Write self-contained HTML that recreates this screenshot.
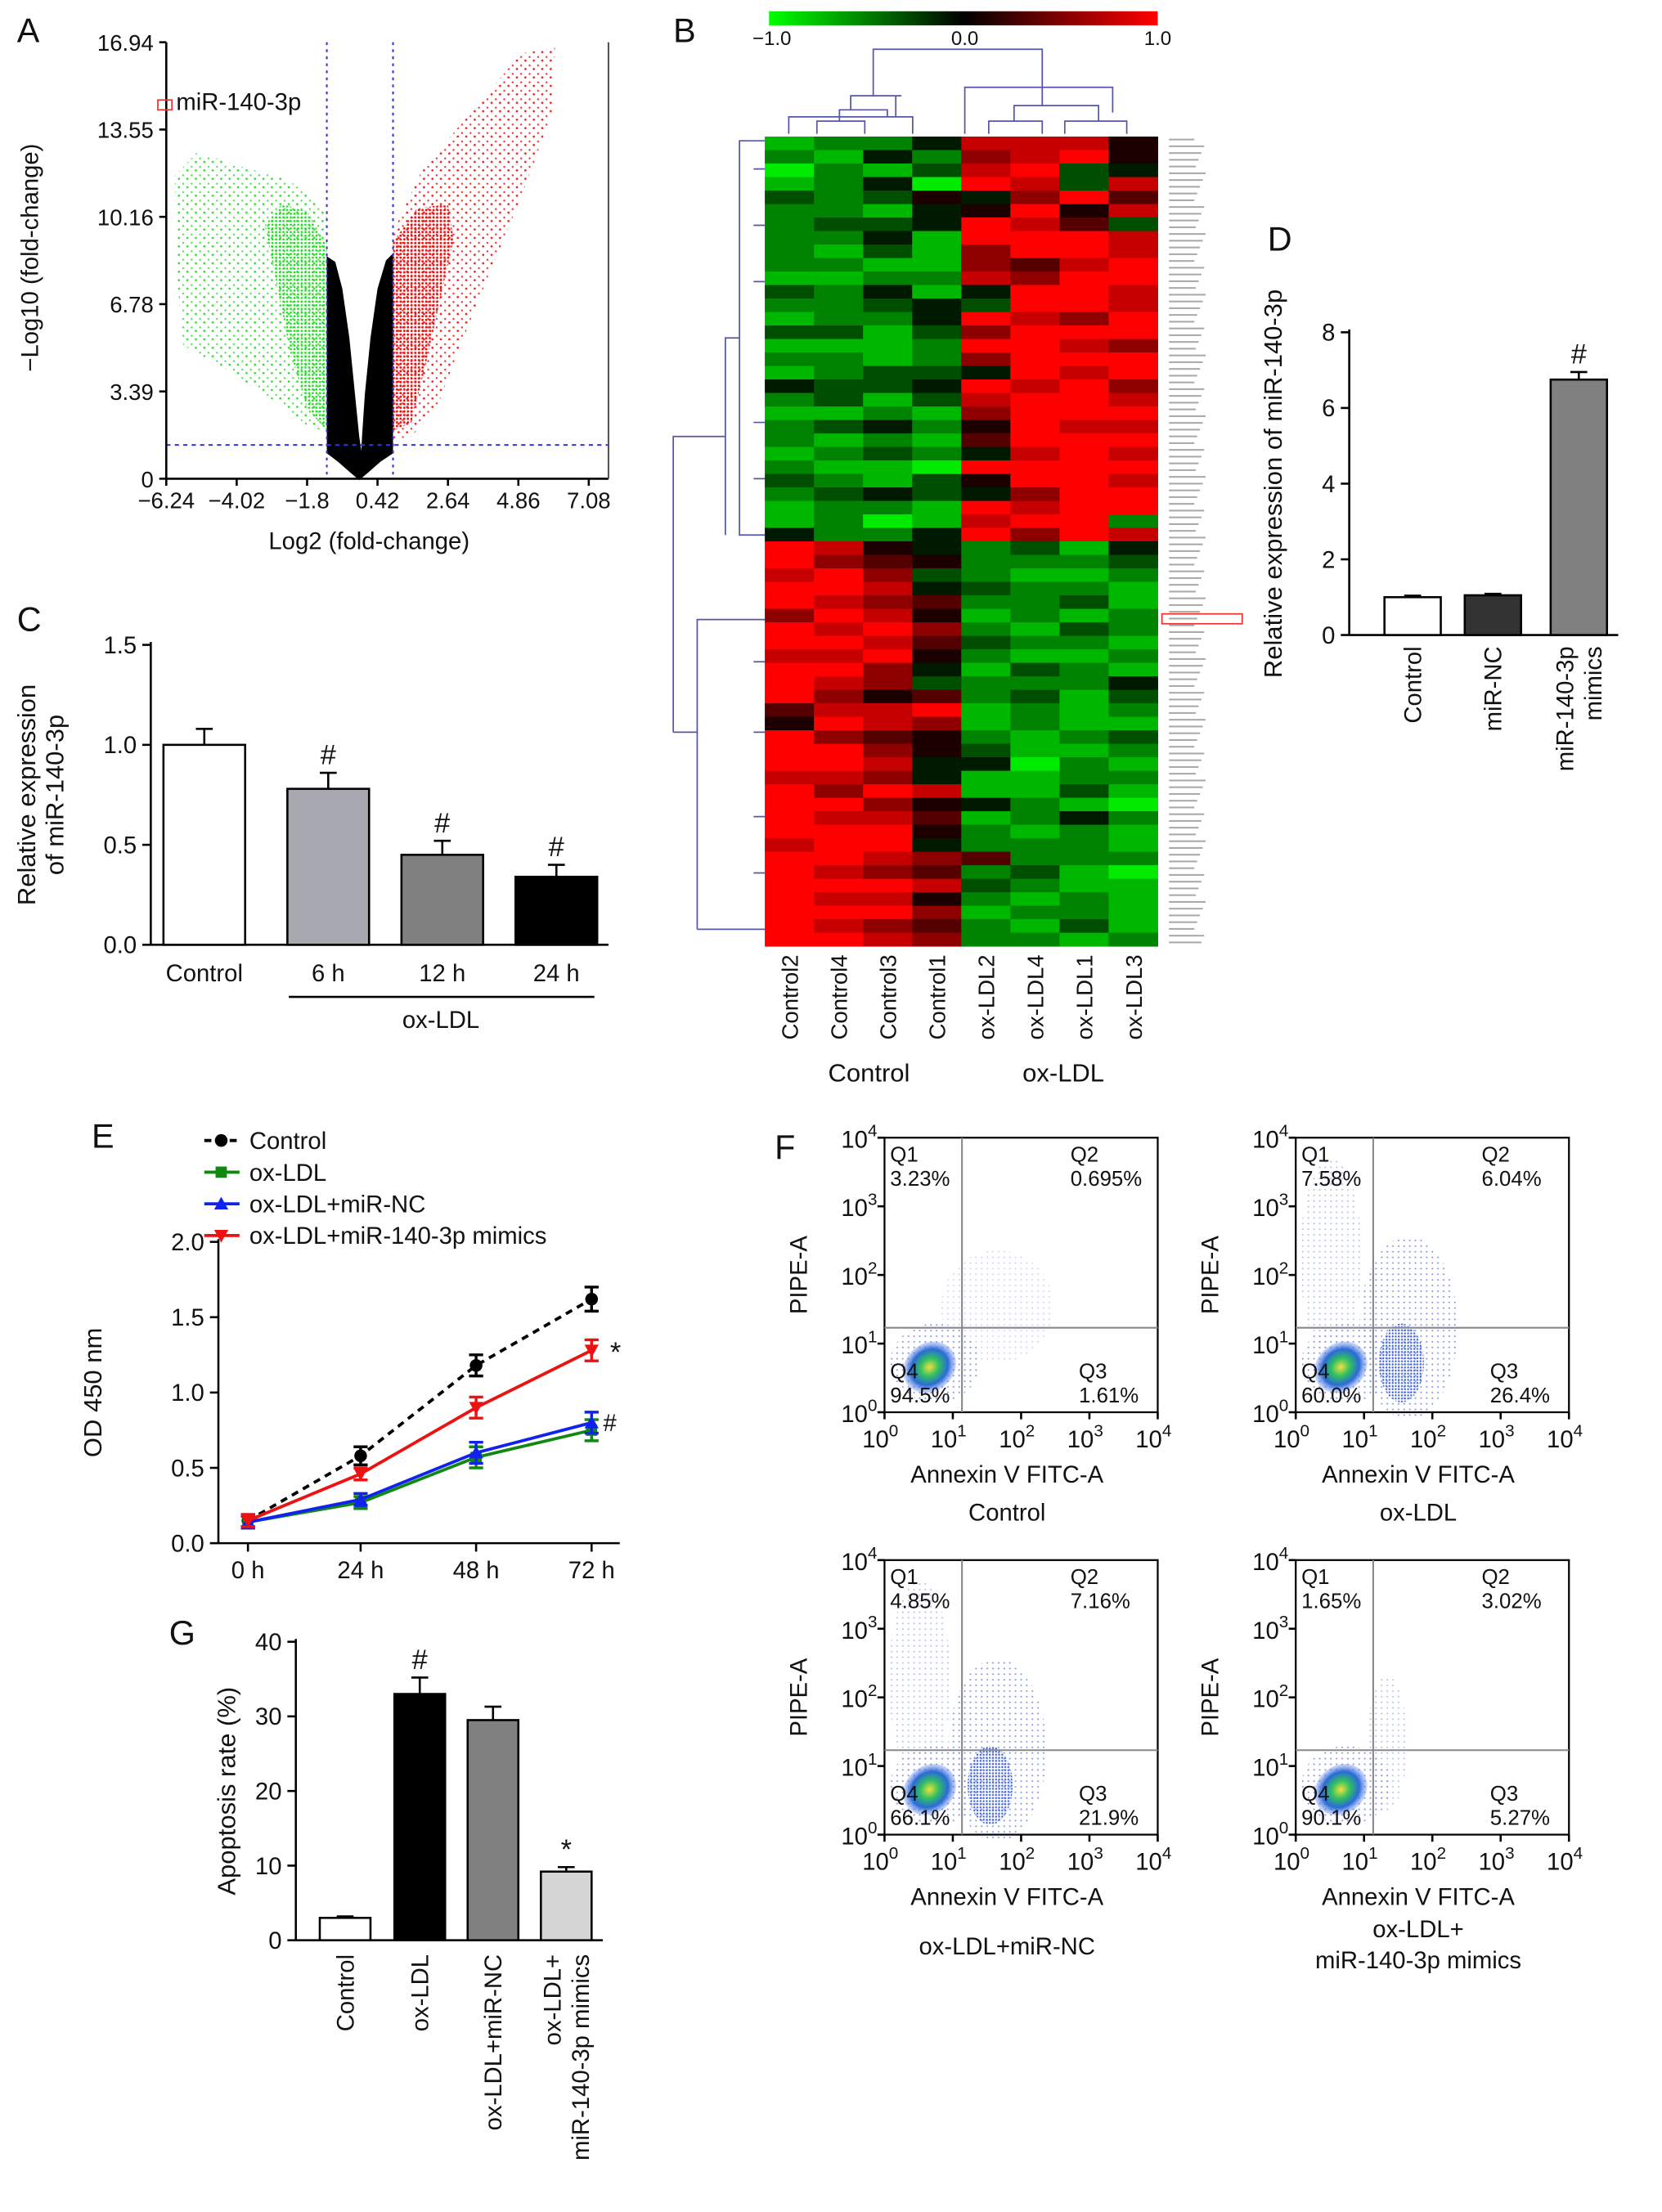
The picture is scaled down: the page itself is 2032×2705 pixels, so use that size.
<!DOCTYPE html>
<html><head><meta charset="utf-8"><style>
html,body{margin:0;padding:0;background:#fff}
svg{display:block;font-family:"Liberation Sans",Arial,sans-serif}
</style></head><body>
<svg id="fig" width="2032" height="2705" viewBox="0 0 1180 1571" xmlns="http://www.w3.org/2000/svg">
<defs>
<linearGradient id="cbar" x1="0" x2="1" y1="0" y2="0"><stop offset="0" stop-color="#00ff00"/><stop offset="0.5" stop-color="#000"/><stop offset="1" stop-color="#ff0000"/></linearGradient>
<radialGradient id="core"><stop offset="0" stop-color="#f0e040"/><stop offset="0.35" stop-color="#30c060"/><stop offset="0.7" stop-color="#2a6ad8"/><stop offset="1" stop-color="#6f8fe8" stop-opacity="0.3"/></radialGradient>
<pattern id="gs" width="6" height="6" patternUnits="userSpaceOnUse"><circle cx="1" cy="1" r="0.8" fill="#33dd33"/><circle cx="4" cy="4.5" r="0.7" fill="#55e055"/></pattern>
<pattern id="gd" width="2.6" height="2.6" patternUnits="userSpaceOnUse"><circle cx="1" cy="1" r="0.8" fill="#22dd22"/></pattern>
<pattern id="rs" width="6" height="6" patternUnits="userSpaceOnUse"><circle cx="1" cy="1" r="0.8" fill="#ee2222"/><circle cx="4" cy="4.5" r="0.7" fill="#f03333"/></pattern>
<pattern id="rd" width="2.6" height="2.6" patternUnits="userSpaceOnUse"><circle cx="1" cy="1" r="0.85" fill="#ee1111"/></pattern>
<pattern id="bs" width="4" height="4" patternUnits="userSpaceOnUse"><circle cx="1" cy="1" r="0.6" fill="#7a90e8"/></pattern>
<pattern id="bd" width="2.2" height="2.2" patternUnits="userSpaceOnUse"><circle cx="1" cy="1" r="0.7" fill="#4a6ad8"/></pattern>
</defs>
<g id="panels"></g>
</svg>
<script>
// ---------- data ----------
const cCats=["Control","6 h","12 h","24 h"];
const cVals=[1.0,0.78,0.45,0.34];
const cErr=[0.08,0.08,0.07,0.06];
const cTicks=[0,0.5,1.0,1.5];
const dCats=["Control","miR-NC","miR-140-3p mimics"];
const dVals=[1.0,1.05,6.75];
const dErr=[0.04,0.04,0.2];
const dTicks=[0,2,4,6,8];
const eTimes=["0 h","24 h","48 h","72 h"];
const eControl=[0.15,0.58,1.18,1.62];
const eOxLDL=[0.14,0.27,0.57,0.75];
const eMiRNC=[0.14,0.29,0.60,0.80];
const eMimics=[0.15,0.46,0.90,1.28];
const eErrCtl=[0.04,0.06,0.07,0.08];
const eErrOther=[0.04,0.04,0.07,0.07];
const eTicks=[0,0.5,1.0,1.5,2.0];
const gCats=["Control","ox-LDL","ox-LDL+miR-NC","ox-LDL+|miR-140-3p mimics"];
const gVals=[3.0,33.0,29.5,9.2];
const gErr=[0.2,2.2,1.8,0.6];
const gTicks=[0,10,20,30,40];
const volXTicks=["−6.24","−4.02","−1.8","0.42","2.64","4.86","7.08"];
const volYTicks=["0","3.39","6.78","10.16","13.55","16.94"];
const hmCols=["Control2","Control4","Control3","Control1","ox-LDL2","ox-LDL4","ox-LDL1","ox-LDL3"];
const hmRows=[
"12248885","21427895","02138934","12409838","32354796","22145958","23349863","22419998","21317998","22117689",
"11228799","32414998","22343998","12249879","33137999","11129987","22127999","12334989","43349897","23138998",
"11217999","23425988","21216999","12324898","21109999","32135998","23434799","12219899","12018992","42249798",
"98542314","97652223","89732112","99843221","98762231","79851212","98972132","99863221","88952112","99741321",
"98732224","97562313","68891212","59871211","97652123","99753112","99844021","88741122","97981131","99754210",
"98861242","99952121","89942221","99876222","98762310","99983211","98852121","99971221","98762131","99872212"];
const qTexts=[
["3.23%","0.695%","1.61%","94.5%"],["7.58%","6.04%","26.4%","60.0%"],
["4.85%","7.16%","21.9%","66.1%"],["1.65%","3.02%","5.27%","90.1%"]];
// ---------- helpers ----------
const NS="http://www.w3.org/2000/svg";
const root=document.getElementById("panels");
function el(tag,attrs,parent,txt){const e=document.createElementNS(NS,tag);for(const k in attrs)e.setAttribute(k,attrs[k]);if(txt!==undefined)e.textContent=txt;(parent||root).appendChild(e);return e;}
function grp(name){const g=el("g",{});return g;}
function txt(g,x,y,s,size,anchor,extra){const t=el("text",Object.assign({x:x,y:y,"font-size":size||17,"text-anchor":anchor||"middle",fill:"#111"},extra||{}),g,s);return t;}
function line(g,x1,y1,x2,y2,st,w,dash){const a={x1:x1,y1:y1,x2:x2,y2:y2,stroke:st||"#000","stroke-width":w||1.5};if(dash)a["stroke-dasharray"]=dash;return el("line",a,g);}
function rlabel(g,x,y,s,size){return txt(g,x,y,s,size||17,"end",{transform:`rotate(-90 ${x} ${y})`});}

// ---------- Panel A volcano ----------
(function(){
const g=grp("panel-a-volcano");
txt(g,12,30,"A",24,"start");
const x0=118,x1=432,y0=340,y1=30;
el("polygon",{points:"232,150 205,128 170,118 140,108 124,125 126,200 130,245 160,262 195,285 222,305 232,305",fill:"url(#gs)"},g);
el("polygon",{points:"232,175 218,150 200,145 188,160 196,200 206,250 218,290 232,306",fill:"url(#gd)"},g);
el("polygon",{points:"279,165 300,120 330,85 370,38 394,34 392,80 370,140 345,200 325,250 310,290 292,310 279,312",fill:"url(#rs)"},g);
el("polygon",{points:"279,172 296,148 318,145 322,170 312,215 302,260 292,300 279,306",fill:"url(#rd)"},g);
el("polygon",{points:"232,182 238,186 243,205 248,240 252,280 255,310 258,330 255,341 248,335 240,328 232,322",fill:"#000"},g);
el("polygon",{points:"279,180 274,185 268,205 263,240 259,280 257,310 256,330 255,341 262,335 270,328 279,322",fill:"#000"},g);
line(g,232,30,232,340,"#3333dd",1.2,"2,3");line(g,279,30,279,340,"#3333dd",1.2,"2,3");
line(g,118,316,432,316,"#3333dd",1.2,"3,3");
line(g,x0,y1,x0,y0);line(g,x0,y0,x1,y0);line(g,x1,y1,x1,y0,"#555",1.2);
volXTicks.forEach((t,i)=>{const x=x0+i*(x1-x0-14)/6;line(g,x,y0,x,y0+5);txt(g,x,y0+21,t,16);});
volYTicks.forEach((t,i)=>{const y=y0-i*(y0-y1)/5;line(g,x0-5,y,x0,y);txt(g,x0-9,y+6,t,16,"end");});
txt(g,262,390,"Log2 (fold-change)",17);
txt(g,27,183,"−Log10 (fold-change)",17,"middle",{transform:"rotate(-90 27 183)"});
el("rect",{x:112,y:71,width:10,height:7,fill:"none",stroke:"#e33","stroke-width":1},g);
txt(g,125,78,"miR-140-3p",17,"start");
})();

// ---------- Panel B heatmap ----------
(function(){
const g=grp("panel-b-heatmap");
txt(g,478,30,"B",24,"start");
el("rect",{x:546,y:8,width:276,height:10,fill:"url(#cbar)"},g);
txt(g,548,32,"−1.0",14);txt(g,685,32,"0.0",14);txt(g,822,32,"1.0",14);
const hx=543,hw=279,hy=97,hh=575,cw=hw/hmCols.length,rh=hh/hmRows.length;
function col(v){const t=(v-4.5)/4.5;if(t<0)return `rgb(0,${Math.round(-t*235)},0)`;return `rgb(${Math.round(t*255)},0,0)`;}
hmRows.forEach((r,i)=>{for(let j=0;j<hmCols.length;j++){const c=el("rect",{x:hx+j*cw,y:hy+i*rh,width:cw+0.3,height:rh+0.3,fill:col(+r[j])},g);}});
for(let i=0;i<hmRows.length*2;i++){el("rect",{x:830,y:hy+i*rh/2+1.5,width:18+(i*7%9),height:1.2,fill:"#aaa"},g);}
el("rect",{x:825,y:436,width:57,height:7,fill:"none",stroke:"#e33","stroke-width":1},g);
const dc="#5555aa";
el("path",{d:"M560 95V83H648V95M580 95V86H614V95M596 86V78H630V83M604 78V68H640M636 83V68M620 68V35H740V62M685 95V62H790V80M702 95V86H740V95M756 95V86H800V95M720 86V75H780V86M740 62V75",fill:"none",stroke:dc,"stroke-width":1},g);
el("path",{d:"M543 100H525V380H543M525 240H515V380M515 310H478V520M478 520H495V440H543M495 660H543M495 440V660M535 120H543M535 160H543M535 200H543M535 300H543M535 340H543M535 470H543M535 520H543M535 580H543M535 620H543",fill:"none",stroke:dc,"stroke-width":1},g);
hmCols.forEach((c,j)=>{const x=hx+j*cw+cw/2+6;rlabel(g,x,678,c,16);});
txt(g,617,768,"Control",18);txt(g,755,768,"ox-LDL",18);
})();

// ---------- bar chart helper ----------
function bars(name,ox,oy,top,max,ticks,cats,vals,errs,centers,bw,fills,yTitleLines,ytx,marks){
 const g=grp(name);
 const sy=v=>oy-(v/max)*(oy-top);
 line(g,ox,top-2,ox,oy);line(g,ox,oy,centers[centers.length-1]+bw/2+8,oy);
 ticks.forEach(t=>{line(g,ox-6,sy(t),ox,sy(t));txt(g,ox-10,sy(t)+6,(max>5?String(t):t.toFixed(1)),17,"end");});
 vals.forEach((v,i)=>{const x=centers[i]-bw/2;const b=el("rect",{x:x,y:sy(v),width:bw,height:oy-sy(v),fill:fills[i],stroke:"#000","stroke-width":1.5},g);
  const ey=sy(v+errs[i]);line(g,centers[i],sy(v),centers[i],ey);line(g,centers[i]-6,ey,centers[i]+6,ey);
  if(marks[i])txt(g,centers[i],ey-6,marks[i],20);});
 yTitleLines.forEach((s,k)=>txt(g,ytx+k*20,(oy+top)/2,s,18,"middle",{transform:`rotate(-90 ${ytx+k*20} ${(oy+top)/2})`}));
 return {g,sy};
}
(function(){
 const r=bars("panel-c-bar",107,671,458,1.5,cTicks,cCats,cVals,cErr,[145,233,314,395],58,["#fff","#a8a8b0","#808080","#000"],["Relative expression","of miR-140-3p"],25,["","#","#","#"]);
 txt(r.g,12,448,"C",24,"start");
 [145,233,314,395].forEach((x,i)=>txt(r.g,x,697,cCats[i],17));
 line(r.g,205,708,422,708);txt(r.g,313,730,"ox-LDL",17);
})();
(function(){
 const r=bars("panel-d-bar",958,451,236,8,dTicks,dCats,dVals,dErr,[1003,1060,1121],40,["#fff","#333","#808080"],["Relative expression of miR-140-3p"],910,["","","#"]);
 txt(r.g,900,178,"D",24,"start");
 rlabel(r.g,1009,459,"Control");rlabel(r.g,1066,459,"miR-NC");rlabel(r.g,1117,459,"miR-140-3p");rlabel(r.g,1137,459,"mimics");
})();
(function(){
 const r=bars("panel-g-bar",210,1378,1166,40,gTicks,gCats,gVals,gErr,[245,298,350,402],36,["#fff","#000","#808080","#d6d6d6"],["Apoptosis rate (%)"],167,["","#","","*"]);
 txt(r.g,120,1168,"G",24,"start");
 [245,298,350].forEach((x,i)=>rlabel(r.g,x+6,1388,gCats[i]));
 rlabel(r.g,398,1388,"ox-LDL+");rlabel(r.g,418,1388,"miR-140-3p mimics");
})();

// ---------- Panel E line chart ----------
(function(){
 const g=grp("panel-e-line");
 txt(g,65,815,"E",24,"start");
 const ox=155,oy=1096,top=882,max=2.0,xs=[176,256,338,420];
 const sy=v=>oy-(v/max)*(oy-top);
 line(g,ox,top-2,ox,oy);line(g,ox,oy,440,oy);
 eTicks.forEach(t=>{line(g,ox-6,sy(t),ox,sy(t));txt(g,ox-10,sy(t)+6,t.toFixed(1),17,"end");});
 eTimes.forEach((t,i)=>{line(g,xs[i],oy,xs[i],oy+6);txt(g,xs[i],oy+25,t,17);});
 txt(g,72,989,"OD 450 nm",18,"middle",{transform:"rotate(-90 72 989)"});
 const series=[[eControl,"#000","circle","5,4",eErrCtl,"Control"],[eOxLDL,"#118811","square",null,eErrOther,"ox-LDL"],[eMiRNC,"#1122ee","tri",null,eErrOther,"ox-LDL+miR-NC"],[eMimics,"#ee1111","tri2",null,eErrOther,"ox-LDL+miR-140-3p mimics"]];
 function marker(x,y,c,s){if(s=="circle")el("circle",{cx:x,cy:y,r:4.5,fill:c},g);else if(s=="square")el("rect",{x:x-4,y:y-4,width:8,height:8,fill:c},g);else if(s=="tri")el("path",{d:`M${x} ${y-5}L${x+5} ${y+4}L${x-5} ${y+4}Z`,fill:c},g);else el("path",{d:`M${x} ${y+5}L${x+5} ${y-4}L${x-5} ${y-4}Z`,fill:c},g);}
 series.forEach((s,k)=>{
  const pts=s[0].map((v,i)=>`${xs[i]},${sy(v)}`).join(" ");
  const pl=el("polyline",{points:pts,fill:"none",stroke:s[1],"stroke-width":2.2},g);if(s[3])pl.setAttribute("stroke-dasharray",s[3]);
  
  s[0].forEach((v,i)=>{const e=s[4][i];line(g,xs[i],sy(v-e),xs[i],sy(v+e),s[1],2);line(g,xs[i]-5,sy(v+e),xs[i]+5,sy(v+e),s[1],2);line(g,xs[i]-5,sy(v-e),xs[i]+5,sy(v-e),s[1],2);marker(xs[i],sy(v),s[1],s[2]);});
  const ly=810+k*22.5;line(g,145,ly,170,ly,s[1],2.2,s[3]);marker(157,ly,s[1],s[2]);txt(g,177,ly+6,s[5],17,"start");
 });
 txt(g,437,sy(eMimics[3])+8,"*",20);txt(g,433,sy(eMiRNC[3])+6,"#",17);
})();

// ---------- Panel F flow plots ----------
(function(){
 const g=grp("panel-f-flow");
 txt(g,550,823,"F",24,"start");
 const plots=[[628,808,"Control",null,0],[920,808,"ox-LDL",null,1],[628,1108,"ox-LDL+miR-NC",null,2],[920,1108,"ox-LDL+","miR-140-3p mimics",3]];
 plots.forEach(([x,y,n1,n2,k])=>{
  const w=194,h=195,qx=x+55,qy=y+135;
  const pg=el("g",{},g);
  el("ellipse",{cx:x+36,cy:y+160,rx:32,ry:28,fill:"url(#bs)"},pg);
  if(k==1||k==2){el("ellipse",{cx:x+80,cy:y+135,rx:35,ry:65,fill:"url(#bs)"},pg);el("ellipse",{cx:x+75,cy:y+160,rx:16,ry:28,fill:"url(#bd)"},pg);el("ellipse",{cx:x+25,cy:y+85,rx:22,ry:70,fill:"url(#bs)",opacity:0.6},pg);}
  if(k==3){el("ellipse",{cx:x+65,cy:y+130,rx:14,ry:48,fill:"url(#bs)",opacity:0.6},pg);}
  if(k==0){el("ellipse",{cx:x+80,cy:y+120,rx:40,ry:40,fill:"url(#bs)",opacity:0.4},pg);}
  el("ellipse",{cx:x+32,cy:y+163,rx:20,ry:17,fill:"url(#core)",transform:`rotate(-40 ${x+32} ${y+163})`},pg);
  el("rect",{x:x,y:y,width:w,height:h,fill:"none",stroke:"#000","stroke-width":1.3},pg);
  line(pg,qx,y,qx,y+h,"#888",1.2);line(pg,x,qy,x+w,qy,"#888",1.2);
  for(let i=0;i<5;i++){const ty=y+h-i*h/4,tx=x+i*w/4;line(pg,x-5,ty,x,ty);line(pg,tx,y+h,tx,y+h+5);
   const a=txt(pg,x-18,ty+7,"10",17,"middle");el("tspan",{dy:-8,"font-size":12},a,String(i));
   const b=txt(pg,tx-3,y+h+25,"10",17,"middle");el("tspan",{dy:-8,"font-size":12},b,String(i));}
  const q=qTexts[k];
  txt(pg,x+4,y+17,"Q1",15,"start");txt(pg,x+4,y+34,q[0],15,"start");
  txt(pg,x+132,y+17,"Q2",15,"start");txt(pg,x+132,y+34,q[1],15,"start");
  txt(pg,x+4,y+h-24,"Q4",15,"start");txt(pg,x+4,y+h-7,q[3],15,"start");
  txt(pg,x+138,y+h-24,"Q3",15,"start");txt(pg,x+138,y+h-7,q[2],15,"start");
  txt(pg,x-55,y+h/2,"PIPE-A",17,"middle",{transform:`rotate(-90 ${x-55} ${y+h/2})`});
  txt(pg,x+w/2-10,y+h+50,"Annexin V FITC-A",17);
  if(k<2)txt(pg,x+w/2-10,y+h+77,n1,17);
  else if(!n2)txt(pg,x+w/2-10,y+h+85,n1,17);
  else {txt(pg,x+w/2-10,y+h+73,n1,17);txt(pg,x+w/2-10,y+h+95,n2,17);}
 });
})();
</script>
</body></html>
